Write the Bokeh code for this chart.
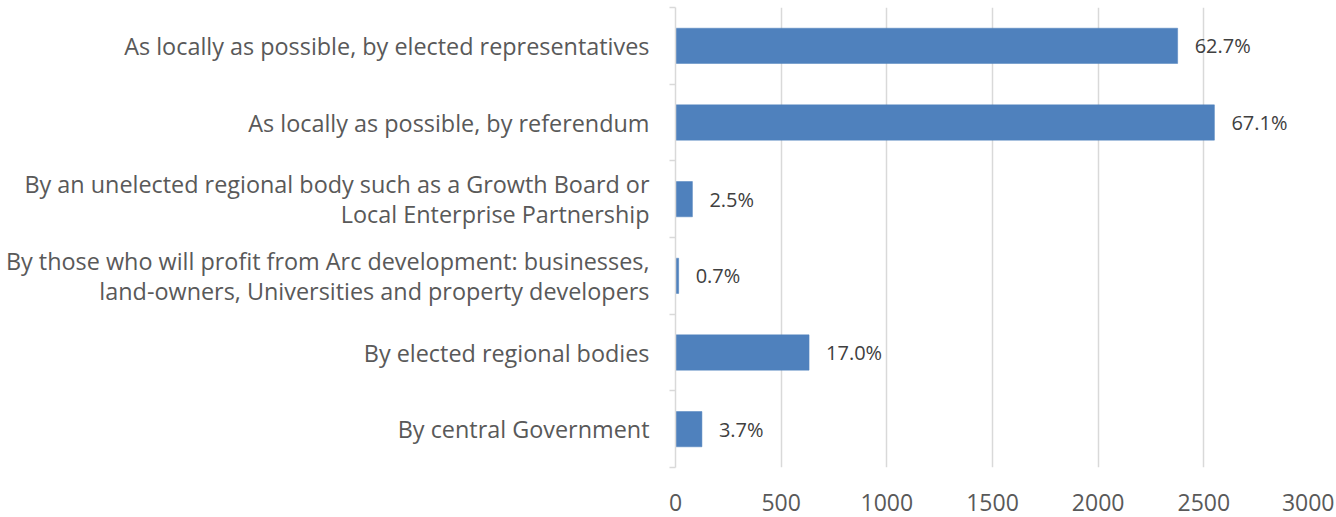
from bokeh.plotting import figure
from bokeh.models import Range1d, FixedTicker, ColumnDataSource
from bokeh.embed import file_html
from bokeh.resources import INLINE
from bokeh.core.properties import value

categories = [
    "As locally as possible, by elected representatives",
    "As locally as possible, by referendum",
    "By an unelected regional body such as a Growth Board or\nLocal Enterprise Partnership",
    "By those who will profit from Arc development: businesses,\nland-owners, Universities and property developers",
    "By elected regional bodies",
    "By central Government",
]
counts = [2376, 2550, 80, 15, 632, 125]
pct_labels = ["62.7%", "67.1%", "2.5%", "0.7%", "17.0%", "3.7%"]
x_ticks = [0, 500, 1000, 1500, 2000, 2500, 3000]

n = len(categories)
idx = list(range(n))
src = ColumnDataSource(dict(y=idx, x=counts, lab=pct_labels))

FONT = "Open Sans"
p = figure(width=1334, height=516, output_backend="svg", toolbar_location=None,
           x_range=Range1d(x_ticks[0], x_ticks[-1]), y_range=Range1d(n - 0.5, -0.5),
           min_border_left=675, min_border_right=25, min_border_top=7, min_border_bottom=49)
p.outline_line_color = None
p.background_fill_color = "white"

p.hbar(y="y", right="x", left=0, height=0.46, source=src,
       fill_color="#4F81BD", line_color="#4F81BD", line_width=0.5)
p.text(x="x", y="y", text="lab", source=src, x_offset=17, text_baseline="middle",
       text_align="left", text_font=value(FONT), text_font_size="20px", text_color="#404040")

# x axis
p.xaxis.ticker = FixedTicker(ticks=x_ticks)
p.xaxis.axis_line_color = None
p.xaxis.major_tick_line_color = None
p.xaxis.minor_tick_line_color = None
p.xaxis.major_label_standoff = 20
p.xaxis.major_label_text_font = FONT
p.xaxis.major_label_text_font_size = "23px"
p.xaxis.major_label_text_color = "#595959"

# y axis
p.yaxis.ticker = FixedTicker(ticks=idx, minor_ticks=[i - 0.5 for i in range(n + 1)])
p.yaxis.major_label_overrides = {i: c for i, c in zip(idx, categories)}
p.yaxis.axis_line_color = "#D9D9D9"
p.yaxis.axis_line_width = 1.5
p.yaxis.major_tick_line_color = None
p.yaxis.minor_tick_line_color = "#D9D9D9"
p.yaxis.minor_tick_line_width = 1.5
p.yaxis.minor_tick_out = 6
p.yaxis.minor_tick_in = 0
p.yaxis.major_label_standoff = 20
p.yaxis.major_label_text_font = FONT
p.yaxis.major_label_text_font_size = "23.4px"
p.yaxis.major_label_text_color = "#595959"
p.yaxis.major_label_text_line_height = 0.95

p.xgrid.grid_line_color = "#D9D9D9"
p.xgrid.grid_line_width = 1.5
p.ygrid.grid_line_color = None

open("out.html", "w").write(file_html(p, INLINE))
